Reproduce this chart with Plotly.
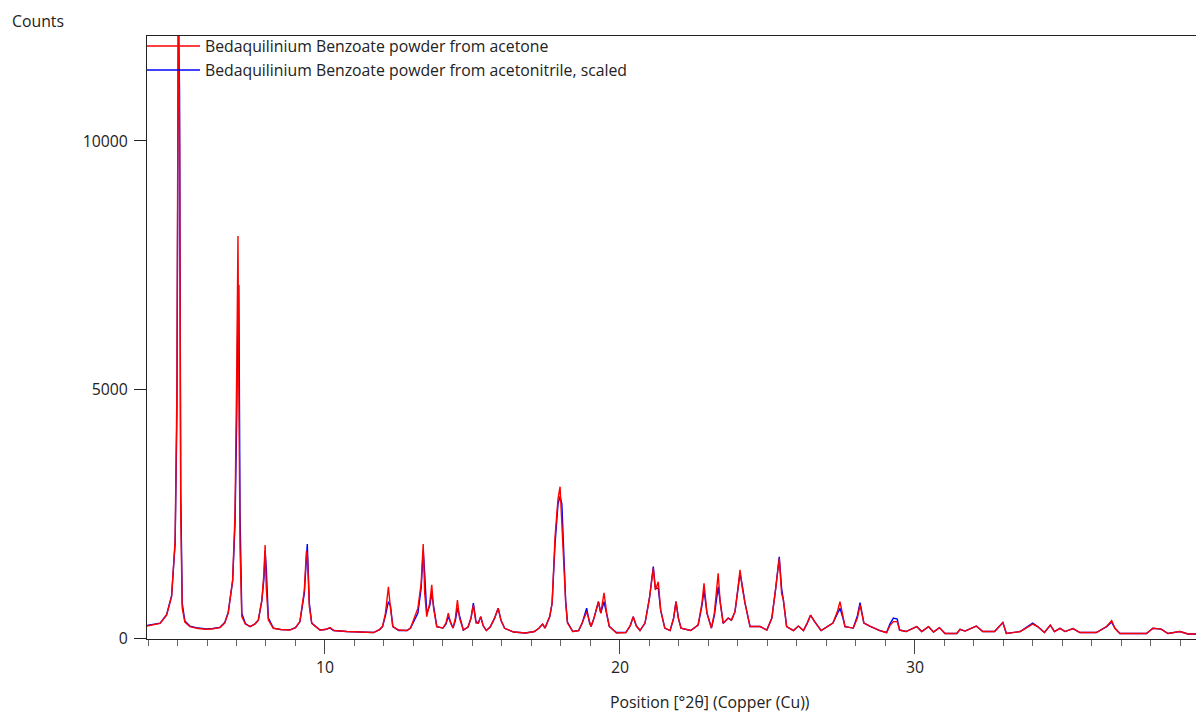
import plotly.graph_objects as go

# 2theta positions (degrees) of hand-read vertices
two_theta = [
    3.95, 4.20, 4.41, 4.63, 4.80, 4.92, 4.98, 5.03, 5.07, 5.11, 5.16, 5.25, 5.42, 5.70, 5.99,
    6.20, 6.44, 6.60, 6.72, 6.87, 6.95, 7.01, 7.05, 7.08, 7.12, 7.18, 7.30, 7.46, 7.62, 7.74,
    7.86, 7.93, 7.97, 8.01, 8.08, 8.25, 8.50, 8.81, 9.00, 9.15, 9.30, 9.37, 9.40, 9.47, 9.55,
    9.83, 10.00, 10.17, 10.30, 10.74, 11.20, 11.64, 11.85, 11.95, 12.05, 12.15, 12.22, 12.30, 12.50, 12.78,
    12.90, 13.05, 13.15, 13.26, 13.33, 13.38, 13.45, 13.55, 13.62, 13.68, 13.79, 14.00, 14.10, 14.18, 14.26,
    14.34, 14.42, 14.49, 14.56, 14.69, 14.85, 14.95, 15.03, 15.12, 15.20, 15.28, 15.36, 15.47, 15.60, 15.75,
    15.87, 15.97, 16.09, 16.40, 16.80, 17.10, 17.25, 17.38, 17.46, 17.62, 17.70, 17.80, 17.90, 17.97, 18.03,
    18.10, 18.16, 18.22, 18.40, 18.60, 18.72, 18.87, 18.97, 19.02, 19.12, 19.27, 19.35, 19.46, 19.55, 19.64,
    19.70, 19.88, 20.20, 20.35, 20.45, 20.55, 20.68, 20.85, 21.00, 21.13, 21.20, 21.30, 21.38, 21.52, 21.70,
    21.82, 21.90, 21.98, 22.07, 22.40, 22.65, 22.78, 22.85, 22.95, 23.10, 23.20, 23.33, 23.40, 23.50, 23.67,
    23.78, 23.90, 24.00, 24.07, 24.15, 24.24, 24.41, 24.75, 24.98, 25.15, 25.28, 25.40, 25.48, 25.54, 25.65,
    25.88, 26.05, 26.22, 26.35, 26.46, 26.60, 26.82, 27.22, 27.38, 27.46, 27.56, 27.63, 27.91, 28.05, 28.14,
    28.22, 28.27, 28.47, 28.81, 29.04, 29.15, 29.27, 29.40, 29.48, 29.70, 30.06, 30.23, 30.46, 30.63, 30.83,
    31.02, 31.42, 31.53, 31.70, 32.08, 32.30, 32.70, 32.98, 33.10, 33.57, 33.99, 34.16, 34.39, 34.59, 34.73,
    34.92, 35.09, 35.36, 35.59, 36.15, 36.50, 36.67, 36.78, 36.95, 37.85, 38.07, 38.35, 38.58, 38.98, 39.26,
    39.80,
]

counts_acetone = [
    240, 270, 295, 460, 830, 1970, 5000, 13500, 10000, 2500, 600, 320, 230, 190, 175,
    185, 210, 300, 500, 1170, 2500, 5500, 8090, 5000, 1800, 430, 280, 230, 280, 360,
    765, 1300, 1870, 1000, 360, 195, 170, 160, 210, 330, 965, 1750, 1700, 630, 295,
    160, 170, 210, 150, 130, 125, 110, 170, 230, 500, 1030, 600, 230, 160, 150,
    200, 430, 600, 1100, 1890, 900, 430, 700, 1070, 600, 230, 200, 300, 500, 300,
    200, 400, 765, 400, 160, 220, 400, 660, 300, 300, 430, 250, 150, 220, 400,
    600, 350, 195, 120, 100, 130, 195, 280, 200, 430, 700, 2040, 2800, 3045, 2200,
    1370, 700, 300, 130, 150, 300, 530, 300, 230, 400, 730, 500, 910, 500, 230,
    200, 100, 110, 250, 430, 250, 150, 300, 800, 1400, 965, 1130, 560, 200, 150,
    400, 730, 400, 200, 150, 260, 700, 1100, 500, 200, 500, 1300, 700, 295, 400,
    360, 530, 1000, 1370, 1000, 700, 230, 230, 160, 400, 1000, 1600, 900, 765, 230,
    150, 240, 150, 300, 460, 330, 150, 300, 550, 730, 400, 230, 200, 400, 665,
    400, 300, 240, 150, 110, 250, 330, 330, 160, 130, 230, 130, 230, 120, 210,
    90, 90, 175, 140, 240, 130, 130, 310, 90, 130, 280, 230, 110, 260, 130,
    195, 130, 190, 110, 110, 230, 350, 195, 90, 90, 195, 180, 90, 130, 80,
    80,
]

counts_acetonitrile = [
    250, 280, 300, 470, 850, 1900, 4500, 12500, 11000, 3000, 700, 340, 240, 200, 180,
    190, 215, 310, 520, 1150, 2300, 4500, 6900, 7100, 2500, 500, 290, 230, 280, 360,
    750, 1200, 1750, 1400, 400, 200, 170, 165, 210, 330, 900, 1600, 1890, 700, 300,
    160, 170, 200, 150, 130, 120, 110, 170, 230, 450, 730, 650, 230, 150, 150,
    200, 400, 500, 1000, 1770, 1300, 500, 650, 900, 650, 230, 200, 280, 430, 300,
    200, 350, 600, 450, 160, 220, 400, 700, 330, 300, 430, 250, 150, 220, 400,
    600, 350, 195, 120, 100, 130, 195, 280, 200, 430, 700, 1900, 2700, 2850, 2700,
    1400, 750, 320, 130, 150, 300, 600, 300, 230, 400, 730, 500, 730, 500, 230,
    200, 110, 110, 250, 430, 250, 150, 300, 800, 1435, 1000, 1000, 560, 200, 150,
    400, 730, 400, 200, 150, 260, 650, 965, 500, 200, 450, 1030, 700, 295, 400,
    360, 530, 950, 1300, 1050, 700, 230, 230, 160, 400, 1000, 1635, 1000, 765, 230,
    150, 240, 150, 300, 460, 330, 150, 300, 500, 600, 400, 230, 200, 450, 710,
    400, 300, 240, 150, 110, 280, 400, 380, 160, 130, 230, 130, 230, 120, 210,
    90, 90, 175, 140, 240, 130, 130, 310, 90, 130, 300, 230, 110, 260, 130,
    195, 130, 190, 110, 110, 230, 320, 195, 90, 90, 195, 180, 90, 130, 80,
    80,
]

series_names = [
    "Bedaquilinium Benzoate powder from acetone",
    "Bedaquilinium Benzoate powder from acetonitrile, scaled",
]
series_colors = ["#ff0000", "#0000ff"]

y_tick_values = [0, 5000, 10000]
x_tick_values = [10, 20, 30]

FONT = "Open Sans"
FS = 15.8
TEXT = "#222222"
LW = 1.4

fig = go.Figure()
fig.add_trace(go.Scatter(x=two_theta, y=counts_acetonitrile, mode="lines",
                         name=series_names[1], line=dict(color=series_colors[1], width=LW)))
fig.add_trace(go.Scatter(x=two_theta, y=counts_acetone, mode="lines",
                         name=series_names[0], line=dict(color=series_colors[0], width=LW)))

# the page body adds an 8 px margin; the figure is sized so that the
# plot frame lands where it is in the reference page
OFF = 8
W, H = 1204 - OFF, 713 - OFF
L, R, T, B = 147 - OFF, 0, 36 - OFF, 713 - 639
pw = W - L - R
ph = H - T - B

def px_to_paper_x(px):
    return (px - OFF - L) / pw

def py_to_paper_y(py):
    return (H - B - (py - OFF)) / ph

# manual legend (inside top-left of the frame)
for i, (name, col) in enumerate(zip(series_names, series_colors)):
    py = 46 + 24 * i
    fig.add_shape(type="line", xref="paper", yref="paper",
                  x0=0, x1=px_to_paper_x(200), y0=py_to_paper_y(py), y1=py_to_paper_y(py),
                  line=dict(color=col, width=1.3))
    fig.add_annotation(xref="paper", yref="paper", x=px_to_paper_x(203), y=py_to_paper_y(py),
                       text=name, showarrow=False, xanchor="left", yanchor="middle",
                       font=dict(family=FONT, size=FS, color=TEXT))

fig.add_annotation(xref="paper", yref="paper", x=px_to_paper_x(10), y=py_to_paper_y(21),
                   text="Counts", showarrow=False, xanchor="left", yanchor="middle",
                   font=dict(family=FONT, size=FS, color=TEXT))
fig.add_annotation(xref="paper", yref="paper", x=px_to_paper_x(710), y=py_to_paper_y(702),
                   text="Position [°2θ] (Copper (Cu))", showarrow=False,
                   xanchor="center", yanchor="middle",
                   font=dict(family=FONT, size=FS, color=TEXT))

fig.update_layout(
    width=W, height=H,
    margin=dict(l=L, r=R, t=T, b=B, pad=0),
    plot_bgcolor="white", paper_bgcolor="white",
    showlegend=False,
    font=dict(family=FONT, size=FS, color=TEXT),
    xaxis=dict(range=[3.966, 39.8], showgrid=False, zeroline=False,
               showline=True, linecolor="#222222", linewidth=1, mirror=True,
               tickmode="array", tickvals=x_tick_values,
               ticks="outside", ticklen=14, tickcolor="#444444", tickwidth=1,
               minor=dict(dtick=1, tick0=0, ticks="outside", ticklen=6,
                          tickcolor="#666666", tickwidth=1, showgrid=False),
               tickfont=dict(family=FONT, size=FS, color=TEXT)),
    yaxis=dict(range=[-20, 12112], showgrid=False, zeroline=False,
               showline=True, linecolor="#222222", linewidth=1, mirror=False,
               tickmode="array", tickvals=y_tick_values, tickformat="d",
               ticks="outside", ticklen=12, tickcolor="#222222", tickwidth=1,
               ticklabelstandoff=3,
               tickfont=dict(family=FONT, size=FS, color=TEXT)),
)

fig.write_html("out.html")
